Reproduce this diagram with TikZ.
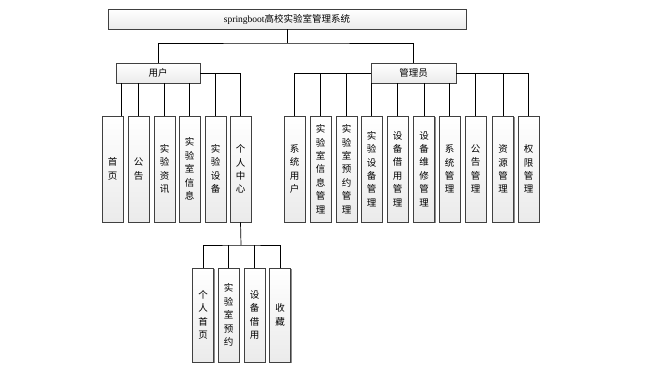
\documentclass[tikz,border=0pt]{standalone}
\usepackage{fontspec}
\setmainfont{Liberation Serif}
\newfontfamily\cjk{Noto Sans CJK SC}
\usetikzlibrary{shadows}

\tikzset{
  box/.style={draw=black!75, line width=0.7pt, inner sep=0pt,
    top color=white, bottom color=black!8,
    drop shadow={shadow xshift=1.3pt, shadow yshift=-1.3pt, fill=black!45, opacity=1},
    font=\cjk\fontsize{9.5}{13.4}\selectfont, align=center},
  head/.style={box, minimum height=20pt},
  leaf/.style={box, minimum width=21pt, minimum height=106pt},
  subleaf/.style={box, minimum width=21pt, minimum height=94pt},
  link/.style={draw=black, line width=0.7pt}
}

\begin{document}
\begin{tikzpicture}[x=1pt, y=-1pt]
  \useasboundingbox (0,0) rectangle (647,367);
  % top levels
  \node[head, minimum width=358pt] (root) at (287,19) {{\rmfamily springboot}高校实验室管理系统};
  \node[head, minimum width=84pt] (user) at (158,73) {用户};
  \node[head, minimum width=85pt] (admin) at (413.5,73) {管理员};
  % user side
  \node[leaf] (c1) at (112.5,169) {首\\页};
  \node[leaf] (c2) at (138.5,169) {公\\告};
  \node[leaf] (c3) at (164.5,169) {实\\验\\资\\讯};
  \node[leaf] (c4) at (189.5,169) {实\\验\\室\\信\\息};
  \node[leaf] (c5) at (215.5,169) {实\\验\\设\\备};
  \node[leaf] (c6) at (240.5,169) {个\\人\\中\\心};
  % admin side
  \node[leaf] (a1) at (294.5,169) {系\\统\\用\\户};
  \node[leaf] (a2) at (320.5,169) {实\\验\\室\\信\\息\\管\\理};
  \node[leaf] (a3) at (346.5,169) {实\\验\\室\\预\\约\\管\\理};
  \node[leaf] (a4) at (371.5,169) {实\\验\\设\\备\\管\\理};
  \node[leaf] (a5) at (397.5,169) {设\\备\\借\\用\\管\\理};
  \node[leaf] (a6) at (424,169) {设\\备\\维\\修\\管\\理};
  \node[leaf] (a7) at (449.5,169) {系\\统\\管\\理};
  \node[leaf] (a8) at (475.5,169) {公\\告\\管\\理};
  \node[leaf] (a9) at (503,169) {资\\源\\管\\理};
  \node[leaf] (a10) at (528.5,169) {权\\限\\管\\理};
  % personal centre
  \node[subleaf] (s1) at (203,315) {个\\人\\首\\页};
  \node[subleaf] (s2) at (228.5,315) {实\\验\\室\\预\\约};
  \node[subleaf] (s3) at (254.5,315) {设\\备\\借\\用};
  \node[subleaf] (s4) at (280,315) {收\\藏};

  % connectors
  \coordinate (rbus) at (287,43);
  \coordinate (pbus) at (241,245);
  \begin{scope}[on background layer/.try]
  \path[link] (root.south) -- (rbus);
  \path[link] (user.north) |- (rbus) -| (admin.north);
  \path[link] (user.east) -| (c6.north);
  \path[link] (c5.north) |- (user.east);
  \path[link] ([xshift=-2pt]c1.north east) -- ([xshift=-2pt]c1.north east |- user.south);
  \foreach \i in {2,3,4}
    \path[link] (c\i.north) -- (c\i.north |- user.south);
  \path[link] (admin.west) -| (a1.north);
  \foreach \i in {2,3}
    \path[link] (a\i.north) |- (admin.west);
  \foreach \i in {4,5,6,7}
    \path[link] (a\i.north) -- (a\i.north |- admin.south);
  \path[link] (admin.east) -| (a10.north);
  \foreach \i in {8,9}
    \path[link] (a\i.north) |- (admin.east);
  \path[link] (c6.south) -- (pbus);
  \path[link] (s1.north) |- (pbus) -| (s4.north);
  \foreach \i in {2,3}
    \path[link] (s\i.north) -- (s\i.north |- pbus);
  \end{scope}
\end{tikzpicture}
\end{document}
